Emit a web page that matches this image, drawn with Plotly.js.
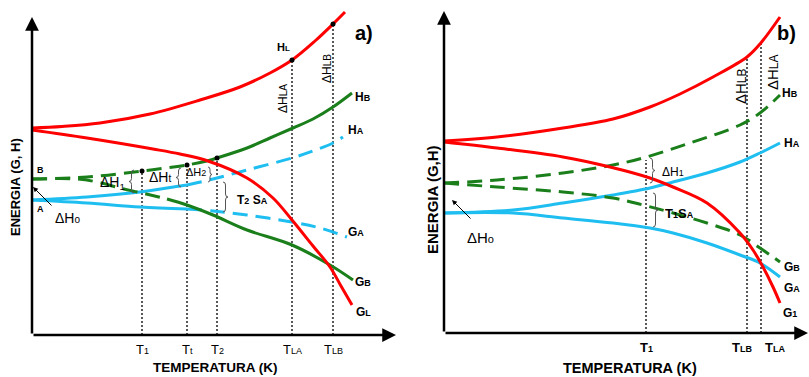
<!DOCTYPE html>
<html><head><meta charset="utf-8">
<script src="https://cdn.plot.ly/plotly-3.0.1.min.js"></script>
<style>html,body{margin:0;padding:0;background:#fff}#chart{width:809px;height:377px}</style>
</head><body><div id="chart"></div>
<script>
// ---------- Panel a) data (T = temperature units, E = energy units) ----------
const aHL_T = [0,30,68,118,168,208,238,260,283,301,313];
const aHL_E = [207,208.5,212,221,235,248,262,275,294,311,323];
const aGL_T = [0,55,121,148,176,215,241,260,281,298,309,320];
const aGL_E = [205,197,186,181,174,157,137,115,89,68,49,30];
const aHB_T = [0,55,110,155,175,185,215,238,261,281,301,320];
const aHB_E = [156,158,164,170,174,177,187,197,207,216,228,242];
const aHB_dashTo = 175;
const aGB_T = [0,45,65,88,110,135,155,181,215,260,298,321];
const aGB_E = [156,156,153,147,142,136,130,120,105,90,70,55];
const aGB_dashTo = 135;
const aHA_T = [0,55,108,148,155,181,215,260,281,301,311];
const aHA_E = [135,138,143,149,150,156,165,177,184,192,198];
const aHA_solidTo = 155;
const aGA_T = [0,55,108,155,181,215,260,288,315];
const aGA_E = [135,132,128,126,124,120,113,107,98];
const aGA_solidTo = 155;
const aTicksT = [110,155,185,260,301];
const aTicksTop = [164,170,177,275,311];
const aTickText = ['T<span style="font-size:9px">1</span>','T<span style="font-size:9px">t</span>','T<span style="font-size:9px">2</span>','T<span style="font-size:9px">LA</span>','T<span style="font-size:9px">LB</span>'];

// ---------- Panel b) data ----------
const bHL_T = [0,53,119,169,206,236,269,303,316,336];
const bHL_E = [192,196,205,214,226,239,256,276,289,316];
const bGL_T = [0,53,119,166,206,229,263,296,309,319,329,336];
const bGL_E = [191,185,176,166,155,146,130,100,83,66,46,30];
const bHB_T = [0,53,119,169,199,246,296,316,336];
const bHB_E = [150,153,160,168,175,190,208,220,238];
const bGB_T = [0,53,119,169,199,229,263,296,316,336];
const bGB_E = [150,146,141,135,128,120,110,98,85,71];
const bHA_T = [0,69,119,169,206,229,263,296,316,336];
const bHA_E = [120,123,130,138,145,151,160,171,180,190];
const bGA_T = [0,69,119,169,206,229,263,296,316,336];
const bGA_E = [120,120,115,110,105,100,90,78,70,56];
const bTicksT = [202,303,317];
const bTicksTop = [173,276,290];
const bTickShift = [0,-5,14];
const bTickText = ['T<span style="font-size:9px">1</span>','T<span style="font-size:9px">LB</span>','T<span style="font-size:9px">LA</span>'];

// ---------- styles ----------
const RED='#ff0000', GREEN='#1a7f1a', BLUE='#1ebef0', FONT='Liberation Sans, Arial, sans-serif';
const DASH='15px,8px';

function tr(T,E,color,dash,xa,ya){
  return {type:'scatter',mode:'lines',x:T,y:E,xaxis:xa,yaxis:ya,
    line:{color:color,width:3,dash:dash||'solid',shape:'spline',smoothing:1},
    hoverinfo:'skip',showlegend:false};
}
function part(T,E,lo,hi){
  const t=[],e=[];
  T.forEach((v,i)=>{ if(v>=lo && v<=hi){t.push(v);e.push(E[i]);} });
  return [t,e];
}
function vlines(Ts,tops,xa,ya){
  return Ts.map((t,i)=>({type:'scatter',mode:'lines',x:[t,t],y:[0,tops[i]],xaxis:xa,yaxis:ya,
    line:{color:'#222',width:1.5,dash:'2px,2px'},hoverinfo:'skip',showlegend:false}));
}

const traces=[];
// panel a
traces.push(...vlines(aTicksT,aTicksTop,'x','y'));
let p;
p=part(aHA_T,aHA_E,0,aHA_solidTo); traces.push(tr(p[0],p[1],BLUE,'solid','x','y'));
p=part(aHA_T,aHA_E,aHA_solidTo,1e9); traces.push(tr(p[0],p[1],BLUE,DASH,'x','y'));
p=part(aGA_T,aGA_E,0,aGA_solidTo); traces.push(tr(p[0],p[1],BLUE,'solid','x','y'));
p=part(aGA_T,aGA_E,aGA_solidTo,1e9); traces.push(tr(p[0],p[1],BLUE,DASH,'x','y'));
p=part(aHB_T,aHB_E,0,aHB_dashTo); traces.push(tr(p[0],p[1],GREEN,DASH,'x','y'));
p=part(aHB_T,aHB_E,aHB_dashTo,1e9); traces.push(tr(p[0],p[1],GREEN,'solid','x','y'));
p=part(aGB_T,aGB_E,0,aGB_dashTo); traces.push(tr(p[0],p[1],GREEN,DASH,'x','y'));
p=part(aGB_T,aGB_E,aGB_dashTo,1e9); traces.push(tr(p[0],p[1],GREEN,'solid','x','y'));
traces.push(tr(aHL_T,aHL_E,RED,'solid','x','y'));
traces.push(tr(aGL_T,aGL_E,RED,'solid','x','y'));
traces.push({type:'scatter',mode:'markers',x:aTicksT,y:aTicksTop,xaxis:'x',yaxis:'y',
  marker:{color:'#000',size:5},hoverinfo:'skip',showlegend:false});
// panel b
traces.push(...vlines(bTicksT,bTicksTop,'x2','y2'));
traces.push(tr(bHA_T,bHA_E,BLUE,'solid','x2','y2'));
traces.push(tr(bGA_T,bGA_E,BLUE,'solid','x2','y2'));
traces.push(tr(bHB_T,bHB_E,GREEN,DASH,'x2','y2'));
traces.push(tr(bGB_T,bGB_E,GREEN,DASH,'x2','y2'));
traces.push(tr(bHL_T,bHL_E,RED,'solid','x2','y2'));
traces.push(tr(bGL_T,bGL_E,RED,'solid','x2','y2'));

// ---------- annotations ----------
const anns=[];
function A(xr,yr,x,y,text,size,opt){
  anns.push(Object.assign({xref:xr,yref:yr,x:x,y:y,text:text,showarrow:false,
    font:{family:FONT,size:size,color:'#000'},xanchor:'center',yanchor:'middle'},opt||{}));
}
function arrow(xr,yr,x,y,ax,ay,w,size){
  anns.push({xref:xr,yref:yr,axref:xr,ayref:yr,x:x,y:y,ax:ax,ay:ay,text:'',showarrow:true,
    arrowhead:2,arrowsize:size||1,arrowwidth:w,arrowcolor:'#000'});
}
const s=(t,sz)=>'<span style="font-size:'+sz+'px">'+t+'</span>';
// axes
arrow('x','y',0,318,0,0,2.5,1.1); arrow('x','y',364,0,0,0,2.5,1.1);
arrow('x2','y2',0,322,0,0,2.5,1.1); arrow('x2','y2',364,0,0,0,2.5,1.1);
// tick labels
aTicksT.forEach((t,i)=>A('x','y',t,0,aTickText[i],13,{yanchor:'top',yshift:-5}));
bTicksT.forEach((t,i)=>A('x2','y2',t,0,'<b>'+bTickText[i]+'</b>',13,{yanchor:'top',yshift:-5,xshift:bTickShift[i]}));
// axis titles
A('paper','paper',215/809,1-367/377,'<b>TEMPERATURA (K)</b>',13.5);
A('paper','paper',15/809,1-187/377,'<b>ENERGIA (G, H)</b>',13,{textangle:-90});
A('paper','paper',630/809,1-368/377,'<b>TEMPERATURA (K)</b>',14.5);
A('paper','paper',432/809,1-200/377,'<b>ENERGIA (G,H)</b>',15,{textangle:-90});
// panel a labels
A('x','y',332,302,'<b>a)</b>',20);
A('x','y',251,288,'<b>H'+s('L',8)+'</b>',11);
A('x','y',331,238,'<b>H'+s('B',9)+'</b>',12);
A('x','y',324,205,'<b>H'+s('A',9)+'</b>',12);
A('x','y',324,103,'<b>G'+s('A',9)+'</b>',12);
A('x','y',331,53,'<b>G'+s('B',9)+'</b>',12);
A('x','y',331,23,'<b>G'+s('L',9)+'</b>',12);
A('x','y',8,165,'<b>B</b>',9);
A('x','y',8,126,'<b>A</b>',9);
A('x','y',35,117,'ΔH'+s('o',10),14);
arrow('x','y',1,148,21,128,1,1);
A('x','y',80,152,'ΔH<sub>1</sub>',14);
A('x','y',128,158,'ΔH'+s('t',10),14);
A('x','y',164,163,'ΔH'+s('2',9),11);
A('x','y',220,135,'<b>T'+s('2',9)+' S'+s('A',9)+'</b>',12);
A('x','y',251,236,'ΔH'+s('LA',10),12,{textangle:-90});
A('x','y',295,266,'ΔH'+s('LB',10),12,{textangle:-90});
// panel b labels
A('x2','y2',342,300,'<b>b)</b>',20);
A('x2','y2',346,240,'<b>H'+s('B',9)+'</b>',12);
A('x2','y2',348,190,'<b>H'+s('A',9)+'</b>',12);
A('x2','y2',348,66,'<b>G'+s('B',9)+'</b>',12);
A('x2','y2',348,45,'<b>G'+s('A',9)+'</b>',12);
A('x2','y2',346,20,'<b>G'+s('1',9)+'</b>',12);
A('x2','y2',296,247,'ΔH'+s('LB',12),15,{textangle:-90});
A('x2','y2',328,261,'ΔH'+s('LA',12),15,{textangle:-90});
A('x2','y2',229,161,'ΔH'+s('1',9),12);
A('x2','y2',235,120,'<b>T'+s('1',9)+'S'+s('A',9)+'</b>',13);
A('x2','y2',36,96,'ΔH'+s('o',11),15);
arrow('x2','y2',8,133,28,113,1,1);

// ---------- braces (thin gray) ----------
function brace(xr,yr,x,y0,y1,w){ // w>0 points right, w<0 points left
  const xm=x+w/2, ym=(y0+y1)/2, d=Math.min(3,(y1-y0)/6);
  const path='M '+x+','+y1+' Q '+xm+','+y1+' '+xm+','+(y1-d)+' L '+xm+','+(ym+d)+
    ' Q '+xm+','+ym+' '+(x+w)+','+ym+' Q '+xm+','+ym+' '+xm+','+(ym-d)+
    ' L '+xm+','+(y0+d)+' Q '+xm+','+y0+' '+x+','+y0;
  return {type:'path',xref:xr,yref:yr,path:path,line:{color:'#555',width:1}};
}
const shapes=[
  brace('x','y',102,142,165,-5),
  brace('x','y',149,148,167,-5),
  brace('x','y',176,153,168,4),
  brace('x','y',191,123,153,5),
  brace('x2','y2',206,150,175,5),
  brace('x2','y2',209,106,140,5)
];

const ax=(dom,rng)=>({domain:dom,range:rng,visible:false,fixedrange:true});
const layout={
  width:809,height:377,margin:{l:0,r:0,t:0,b:0},
  paper_bgcolor:'#fff',plot_bgcolor:'rgba(0,0,0,0)',showlegend:false,
  xaxis:ax([32/809,400/809],[0,368]),
  yaxis:ax([(377-335)/377,1],[0,335]),
  xaxis2:ax([444/809,1],[0,365]),
  yaxis2:ax([(377-333)/377,1],[0,333]),
  annotations:anns,shapes:shapes
};
layout.yaxis.anchor='x'; layout.xaxis.anchor='y';
layout.yaxis2.anchor='x2'; layout.xaxis2.anchor='y2';
Plotly.newPlot('chart',traces,layout,{staticPlot:true,displayModeBar:false});
</script></body></html>
